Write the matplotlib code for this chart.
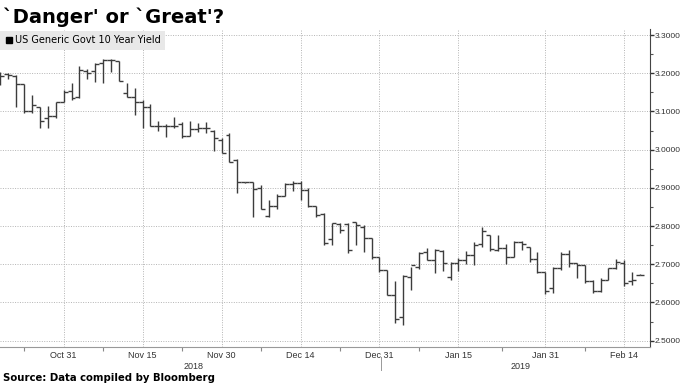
import numpy as np
import matplotlib
matplotlib.use("Agg")
import matplotlib.pyplot as plt
from matplotlib.lines import Line2D
from matplotlib.ticker import FixedLocator, MultipleLocator, FormatStrFormatter

# US Generic Govt 10 Year Yield, one bar per trading day (Oct 19 2018 .. Feb 19 2019)
opens = [3.196, 3.198, 3.193, 3.171, 3.101, 3.113, 3.082, 3.087, 3.126, 3.154,
         3.139, 3.207, 3.207, 3.226, 3.235, 3.232, 3.148, 3.139, 3.124, 3.111,
         3.063, 3.062, 3.061, 3.066, 3.036, 3.055, 3.056, 3.050, 3.026, 3.039,
         2.974, 2.915, 2.915, 2.900, 2.827, 2.853, 2.880, 2.911, 2.913, 2.894,
         2.853, 2.832, 2.765, 2.805, 2.805, 2.811, 2.798, 2.768, 2.718, 2.685,
         2.619, 2.563, 2.666, 2.694, 2.731, 2.711, 2.735, 2.668, 2.704, 2.712,
         2.724, 2.752, 2.776, 2.738, 2.742, 2.718, 2.758, 2.745, 2.715, 2.680,
         2.638, 2.690, 2.728, 2.703, 2.698, 2.657, 2.630, 2.660, 2.690, 2.704,
         2.655, 2.673]
highs = [3.203, 3.202, 3.196, 3.171, 3.142, 3.113, 3.114, 3.124, 3.156, 3.174,
         3.219, 3.210, 3.226, 3.237, 3.237, 3.232, 3.174, 3.161, 3.130, 3.119,
         3.075, 3.068, 3.085, 3.072, 3.075, 3.071, 3.073, 3.052, 3.031, 3.045,
         2.976, 2.916, 2.915, 2.908, 2.867, 2.885, 2.914, 2.917, 2.917, 2.900,
         2.853, 2.834, 2.807, 2.809, 2.807, 2.811, 2.803, 2.768, 2.720, 2.686,
         2.657, 2.672, 2.694, 2.733, 2.743, 2.741, 2.738, 2.707, 2.716, 2.735,
         2.759, 2.798, 2.777, 2.776, 2.754, 2.760, 2.760, 2.746, 2.732, 2.680,
         2.692, 2.733, 2.738, 2.704, 2.699, 2.659, 2.665, 2.690, 2.713, 2.711,
         2.680, 2.674]
lows = [3.169, 3.184, 3.113, 3.097, 3.097, 3.056, 3.058, 3.082, 3.125, 3.130,
        3.136, 3.184, 3.176, 3.174, 3.204, 3.181, 3.137, 3.091, 3.056, 3.061,
        3.050, 3.032, 3.056, 3.031, 3.035, 3.046, 3.043, 2.997, 2.991, 2.969,
        2.887, 2.914, 2.825, 2.845, 2.825, 2.845, 2.878, 2.891, 2.869, 2.850,
        2.825, 2.750, 2.750, 2.781, 2.730, 2.750, 2.733, 2.715, 2.680, 2.619,
        2.545, 2.541, 2.632, 2.687, 2.711, 2.677, 2.682, 2.660, 2.682, 2.700,
        2.698, 2.744, 2.735, 2.734, 2.701, 2.718, 2.737, 2.707, 2.678, 2.621,
        2.624, 2.686, 2.694, 2.665, 2.652, 2.626, 2.628, 2.658, 2.688, 2.642,
        2.646, 2.671]
closes = [3.192, 3.196, 3.171, 3.100, 3.117, 3.076, 3.087, 3.124, 3.152, 3.136,
          3.209, 3.202, 3.224, 3.235, 3.235, 3.181, 3.139, 3.124, 3.113, 3.063,
          3.062, 3.061, 3.062, 3.036, 3.055, 3.056, 3.057, 3.030, 2.991, 2.969,
          2.915, 2.915, 2.897, 2.845, 2.852, 2.880, 2.911, 2.914, 2.894, 2.853,
          2.830, 2.755, 2.807, 2.791, 2.737, 2.803, 2.768, 2.720, 2.685, 2.619,
          2.558, 2.669, 2.698, 2.730, 2.712, 2.738, 2.703, 2.704, 2.712, 2.724,
          2.750, 2.786, 2.739, 2.742, 2.718, 2.758, 2.752, 2.715, 2.680, 2.630,
          2.689, 2.728, 2.703, 2.698, 2.657, 2.630, 2.660, 2.689, 2.705, 2.652,
          2.660, 2.673]

# bar index of the labelled days
tick_pos = [8, 18, 28, 38, 48, 58, 69, 79]
tick_labels = ["Oct 31", "Nov 15", "Nov 30", "Dec 14", "Dec 31", "Jan 15", "Jan 31", "Feb 14"]
minor_pos = [3, 13, 23, 33, 43, 53, 63.5, 74]
years = ["2018", "2019"]
year_pos = [24.5, 65.9]

small = "Liberation Sans"

fig = plt.figure(figsize=(6.83, 3.84), dpi=100)
ax = fig.add_axes([0.0, 0.0964, 0.951, 0.8281])

x = np.arange(len(opens))
bar_col = "#3c3c3c"
ax.vlines(x, lows, highs, color=bar_col, lw=1.0)
ax.hlines(opens, x - 0.5, x, color=bar_col, lw=1.0)
ax.hlines(closes, x, x + 0.5, color=bar_col, lw=1.0)

ax.set_xlim(-0.06, 82.2)
ax.set_ylim(2.4835, 3.316)

# axes styling
ax.yaxis.tick_right()
ax.yaxis.set_major_locator(MultipleLocator(0.1))
ax.yaxis.set_minor_locator(MultipleLocator(0.05))
ax.yaxis.set_major_formatter(FormatStrFormatter("%.4f"))
ax.xaxis.set_major_locator(FixedLocator(tick_pos))
ax.xaxis.set_minor_locator(FixedLocator(minor_pos))
ax.set_xticklabels(tick_labels)
ax.tick_params(axis="y", which="major", length=3, width=1, colors="#333333",
               labelsize=6, pad=1)
ax.tick_params(axis="y", which="minor", length=2, width=0.8, colors="#555555")
ax.tick_params(axis="x", which="major", length=0, labelsize=6.5, colors="#333333", pad=3)
ax.tick_params(axis="x", which="minor", length=3, width=0.8, colors="#888888")
for lab in ax.get_xticklabels() + ax.get_yticklabels():
    lab.set_family(small)

for s in ["left", "top"]:
    ax.spines[s].set_visible(False)
ax.spines["right"].set_color("#444444")
ax.spines["bottom"].set_color("#999999")
ax.spines["bottom"].set_linewidth(0.8)

ax.grid(True, which="major", linestyle=(0, (1, 1.5)), color="#b4b4b4", linewidth=0.7)
ax.set_axisbelow(True)

# year labels under the dates
for yr, p in zip(years, year_pos):
    ax.text(p, -0.062, yr, transform=ax.get_xaxis_transform(), ha="center", va="center",
            fontsize=6.5, color="#333333", family=small)
ax.plot([48.2, 48.2], [-0.03, -0.072], transform=ax.get_xaxis_transform(),
        color="#999999", lw=0.7, clip_on=False)

# legend box
h = Line2D([], [], marker="s", color="black", linestyle="none", markersize=4.5)
leg = ax.legend([h], ["US Generic Govt 10 Year Yield"], loc="upper left",
                bbox_to_anchor=(0.0, 0.995), fontsize=7, frameon=True, fancybox=False,
                borderaxespad=0, handletextpad=0.2, handlelength=0.8, borderpad=0.5)
leg.get_frame().set_facecolor("#e8e8e8")
leg.get_frame().set_edgecolor("none")
leg.get_frame().set_alpha(1)

fig.text(0.004, 0.955, "`Danger' or `Great'?", fontsize=14, fontweight="bold",
         ha="left", va="center", family="DejaVu Sans")
fig.text(0.004, 0.016, "Source: Data compiled by Bloomberg", fontsize=7.3, fontweight="bold",
         ha="left", va="center", family="DejaVu Sans")

fig.savefig("out.png", dpi=100)
